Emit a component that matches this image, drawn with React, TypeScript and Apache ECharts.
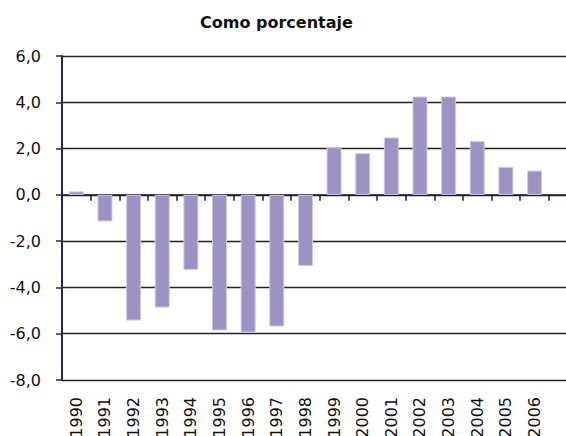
import React, { useEffect, useRef } from "react";
import * as echarts from "echarts";

const years = ["1990","1991","1992","1993","1994","1995","1996","1997","1998","1999","2000","2001","2002","2003","2004","2005","2006"];
const values = [0.15, -1.15, -5.43, -4.87, -3.24, -5.86, -5.95, -5.69, -3.07, 2.06, 1.8, 2.48, 4.25, 4.25, 2.32, 1.21, 1.05];
const titleText = "Como porcentaje";
const yMin = -8;
const yMax = 6;
const yStep = 2;

export default function App() {
  const ref = useRef<HTMLDivElement>(null);
  useEffect(() => {
    if (!ref.current) return;
    const chart = echarts.init(ref.current, null, { renderer: "svg" });
    const cats = [...years, ""];
    const data = [...values, null];
    const font = "DejaVu Sans";
    const gridTop = 56;
    const gridHeight = 324;
    const zeroOffset = -gridHeight * (0 - yMin) / (yMax - yMin);
    const tickColor = "#1f1a3d";
    chart.setOption({
      animation: false,
      backgroundColor: "#ffffff",
      title: {
        text: titleText,
        left: 195,
        top: 9,
        textStyle: { fontFamily: font, fontWeight: "bold", fontSize: 16, color: "#111" },
      },
      grid: { left: 62, top: gridTop, height: gridHeight, width: 515.5, outerBoundsMode: "none", containLabel: false },
      xAxis: [
        {
          type: "category",
          data: cats,
          position: "bottom",
          offset: zeroOffset,
          axisLine: { show: true, onZero: false, lineStyle: { color: tickColor, width: 1.5 } },
          axisTick: { show: true, interval: 0, length: 6, lineStyle: { color: tickColor, width: 1.5 } },
          axisLabel: { show: false },
        },
        {
          type: "category",
          data: cats,
          position: "bottom",
          axisLine: { show: false, onZero: false },
          axisTick: { show: false },
          axisLabel: { rotate: 90, interval: 0, margin: 17, fontFamily: font, fontSize: 16, color: "#111" },
        },
      ],
      yAxis: {
        type: "value",
        min: yMin,
        max: yMax,
        interval: yStep,
        axisLine: { show: true, lineStyle: { color: "#2a2450", width: 2 } },
        axisTick: { show: true, length: 6, lineStyle: { color: "#2a2450", width: 1.5 } },
        splitLine: { show: true, lineStyle: { color: "#222", width: 1.3 } },
        axisLabel: {
          margin: 21,
          fontFamily: font,
          fontSize: 16,
          color: "#111",
          padding: [5, 0, 0, 0],
          formatter: (v: number) => v.toFixed(1).replace(".", ","),
        },
      },
      series: [
        {
          type: "bar",
          xAxisIndex: 0,
          data,
          barWidth: 15,
          itemStyle: { color: "#9d92c4", borderColor: "#cfc8e6", borderWidth: 1 },
        },
      ],
    });
    return () => chart.dispose();
  }, []);
  return <div ref={ref} style={{ position: "fixed", left: 0, top: 0, width: 566, height: 436 }} />;
}
